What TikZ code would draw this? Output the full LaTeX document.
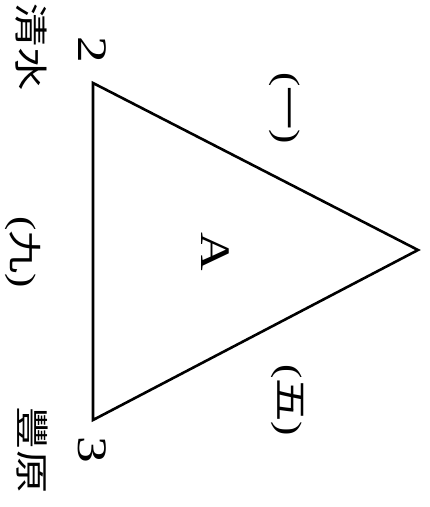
\documentclass[tikz,border=0pt]{standalone}
\usepackage{fontspec}
\setmainfont{Liberation Serif}
\newfontfamily\cjk{Noto Sans CJK TC}

\begin{document}
\begin{tikzpicture}[x=1pt,y=-1pt,
  lbl/.style={inner sep=0pt,yscale=1.27,rotate=-90,font=\fontsize{34}{34}\selectfont},
  big/.style={lbl,font=\fontsize{42}{42}\selectfont}]
\useasboundingbox (0,0) rectangle (430,507);
\coordinate (v2) at (93,83);
\coordinate (v1) at (418,250);
\coordinate (v3) at (93,420);
\draw[line width=2.6pt] (v2) -- (v1) -- (v3) -- cycle;
\node[big] (n2) at (92,50) {2};
\node[big] (n3) at (92,450) {3};
\node[lbl] (qs) at (31,47) {\cjk 清水};
\node[lbl] (fy) at (32,450) {\cjk 豐原};
\node[lbl] (r1) at (285,108) {({\cjk 一})};
\node[lbl] (r5) at (288,400) {({\cjk 五})};
\node[lbl] (r9) at (23,252) {({\cjk 九})};
\node[big] (a) at (215,252) {A};
\end{tikzpicture}
\end{document}
